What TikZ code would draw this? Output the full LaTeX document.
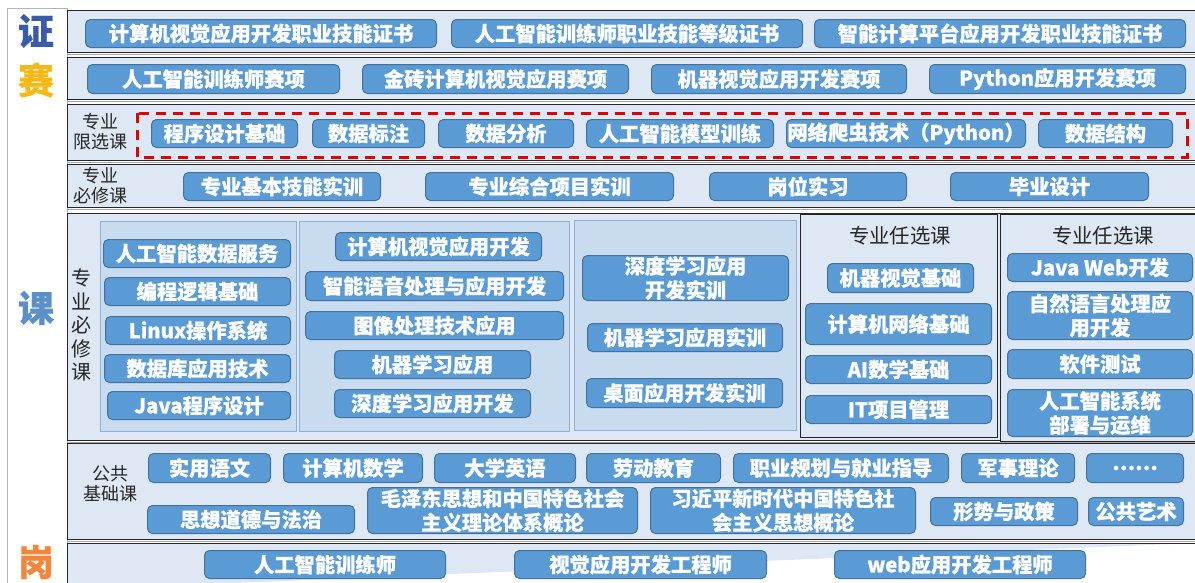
\documentclass[tikz,border=0pt]{standalone}
\usepackage{fontspec}
\newfontfamily\cjk{Noto Sans CJK SC}[BoldFeatures={FakeBold=0.6}]
\definecolor{pillfill}{HTML}{5B9BD5}
\definecolor{pillline}{HTML}{41719C}
\definecolor{rowbg}{HTML}{DEE8F4}
\definecolor{panelbg}{HTML}{C9DBEF}
\definecolor{panelline}{HTML}{8FB0D8}
\definecolor{zhengc}{HTML}{3A5CA8}
\definecolor{saic}{HTML}{F5B915}
\definecolor{kec}{HTML}{5B8FC8}
\definecolor{gangc}{HTML}{F0873A}
\definecolor{dashred}{HTML}{E00000}
\tikzset{
  pill/.style={rounded corners=5pt, fill=pillfill, draw=pillline, line width=1pt,
    text=white, font=\cjk\bfseries\fontsize{20.3}{24}\selectfont, inner sep=0pt,
    align=center, anchor=north west},
  rowbox/.style={fill=rowbg, draw=black!85, line width=0.9pt},
  panelbox/.style={fill=panelbg, draw=panelline, line width=0.9pt},
  optbox/.style={fill=rowbg, draw=black!85, line width=0.9pt},
  rowlabel/.style={font=\cjk\fontsize{18}{20}\selectfont, align=center, text=black!85, inner sep=0pt},
  bigchar/.style={font=\cjk\bfseries\fontsize{36}{36}\selectfont, inner sep=0pt},
  redframe/.style={draw=dashred, line width=3pt, dash pattern=on 10pt off 7pt}
}
\newcommand{\mkpill}[6]{\node[pill, minimum width={#4-#2}, minimum height={#5-#3}] (#1) at (#2,#3) {#6};}
\begin{document}
\begin{tikzpicture}[x=1pt,y=-1pt]
\useasboundingbox (0,0) rectangle (1195,582);
\fill[white] (0,0) rectangle (1195,582);
% left column
\draw[fill=white, draw=black!30, line width=0.9pt] (7,8) rectangle (67,590);
\node[bigchar, text=zhengc] (zheng) at (36,31) {证};
\node[bigchar, text=saic] (sai) at (36,80) {赛};
\node[bigchar, text=kec] (ke) at (36,308) {课};
\node[bigchar, text=gangc] (gang) at (36,562) {岗};
% rows
\foreach \ya/\yb in {10/52, 57/99, 104/160, 164/207, 213/440, 443/539}{
  \draw[black!35, line width=1pt] (67,\yb+2) -- (1195,\yb+2);
  \draw[rowbox] (1196,\ya) -- (67,\ya) -- (67,\yb) -- (1196,\yb);
}
\draw[rowbox] (1196,543) -- (67,543) -- (67,590);
% row 1
\mkpill{c1}{85}{19}{436}{47}{计算机视觉应用开发职业技能证书}
\mkpill{c2}{451}{19}{802}{47}{人工智能训练师职业技能等级证书}
\mkpill{c3}{814}{19}{1185}{47}{智能计算平台应用开发职业技能证书}
% row 2
\mkpill{s1}{87}{64}{339}{93}{人工智能训练师赛项}
\mkpill{s2}{362}{64}{628}{93}{金砖计算机视觉应用赛项}
\mkpill{s3}{651}{64}{906}{93}{机器视觉应用开发赛项}
\mkpill{s4}{929}{64}{1185}{93}{Python应用开发赛项}
% row 3
\node[rowlabel] (lxk) at (100,132) {专业\\限选课};
\draw[redframe] (137,113) rectangle (1187,157);
\mkpill{x1}{151}{119}{297}{147}{程序设计基础}
\mkpill{x2}{312}{119}{424}{147}{数据标注}
\mkpill{x3}{438}{119}{573}{147}{数据分析}
\mkpill{x4}{586}{119}{773}{147}{人工智能模型训练}
\mkpill{x5}{786}{119}{1025}{147}{网络爬虫技术（Python）}
\mkpill{x6}{1038}{119}{1172}{147}{数据结构}
% row 4
\node[rowlabel] (bxk) at (100,186) {专业\\必修课};
\mkpill{p1}{183}{172}{380}{200}{专业基本技能实训}
\mkpill{p2}{425}{172}{673}{200}{专业综合项目实训}
\mkpill{p3}{709}{172}{906}{200}{岗位实习}
\mkpill{p4}{950}{172}{1148}{200}{毕业设计}
% row 5
\node[font=\cjk\fontsize{20}{23.5}\selectfont, align=center, inner sep=0pt, text=black!85] (vlabel) at (81,325) {专\\业\\必\\修\\课};
\draw[panelbox] (100,221) rectangle (296,431);
\draw[panelbox] (299,221) rectangle (569,431);
\draw[panelbox] (574,220) rectangle (796,430);
\draw[optbox] (800,214) rectangle (997,437);
\draw[optbox] (1000,214) rectangle (1200,441);
\mkpill{a1}{103}{239}{290}{267}{人工智能数据服务}
\mkpill{a2}{104}{277}{290}{305}{编程逻辑基础}
\mkpill{a3}{105}{316}{290}{344}{Linux操作系统}
\mkpill{a4}{104}{354}{290}{382}{数据库应用技术}
\mkpill{a5}{107}{391}{290}{419}{Java程序设计}
\mkpill{b1}{335}{232}{541}{260}{计算机视觉应用开发}
\mkpill{b2}{305}{271}{563}{300}{智能语音处理与应用开发}
\mkpill{b3}{305}{311}{563}{339}{图像处理技术应用}
\mkpill{b4}{334}{350}{530}{378}{机器学习应用}
\mkpill{b5}{334}{389}{530}{417}{深度学习应用开发}
\mkpill{t1}{582}{255}{788}{300}{深度学习应用\\开发实训}
\mkpill{t2}{587}{323}{782}{351}{机器学习应用实训}
\mkpill{t3}{586}{378}{782}{407}{桌面应用开发实训}
\node[rowlabel, font=\cjk\fontsize{20.4}{23}\selectfont] (rx1) at (900,236) {专业任选课};
\mkpill{d1}{827}{263}{973}{292}{机器视觉基础}
\mkpill{d2}{805}{303}{991}{344}{计算机网络基础}
\mkpill{d3}{805}{355}{991}{383}{AI数学基础}
\mkpill{d4}{805}{395}{991}{423}{IT项目管理}
\node[rowlabel, font=\cjk\fontsize{20.4}{23}\selectfont] (rx2) at (1103,236) {专业任选课};
\mkpill{e1}{1007}{253}{1192}{281}{Java Web开发}
\mkpill{e2}{1007}{291}{1192}{339}{自然语言处理应\\用开发}
\mkpill{e3}{1007}{349}{1192}{378}{软件测试}
\mkpill{e4}{1007}{389}{1192}{436}{人工智能系统\\部署与运维}
% row 6
\node[rowlabel] (ggk) at (110,484) {公共\\基础课};
\mkpill{g1}{148}{453}{270}{482}{实用语文}
\mkpill{g2}{283}{453}{422}{482}{计算机数学}
\mkpill{g3}{434}{453}{575}{482}{大学英语}
\mkpill{g4}{586}{453}{720}{482}{劳动教育}
\mkpill{g5}{733}{453}{948}{482}{职业规划与就业指导}
\mkpill{g6}{961}{453}{1074}{482}{军事理论}
\mkpill{g7}{1086}{453}{1183}{482}{……}
\mkpill{h1}{147}{505}{354}{533}{思想道德与法治}
\mkpill{h2}{367}{487}{637}{533}{毛泽东思想和中国特色社会\\主义理论体系概论}
\mkpill{h3}{650}{487}{915}{533}{习近平新时代中国特色社\\会主义思想概论}
\mkpill{h4}{930}{497}{1077}{525}{形势与政策}
\mkpill{h5}{1088}{497}{1183}{525}{公共艺术}
% row 7
\mkpill{j1}{204}{550}{445}{578}{人工智能训练师}
\mkpill{j2}{514}{550}{766}{578}{视觉应用开发工程师}
\mkpill{j3}{834}{550}{1085}{578}{web应用开发工程师}
\end{tikzpicture}
\end{document}
